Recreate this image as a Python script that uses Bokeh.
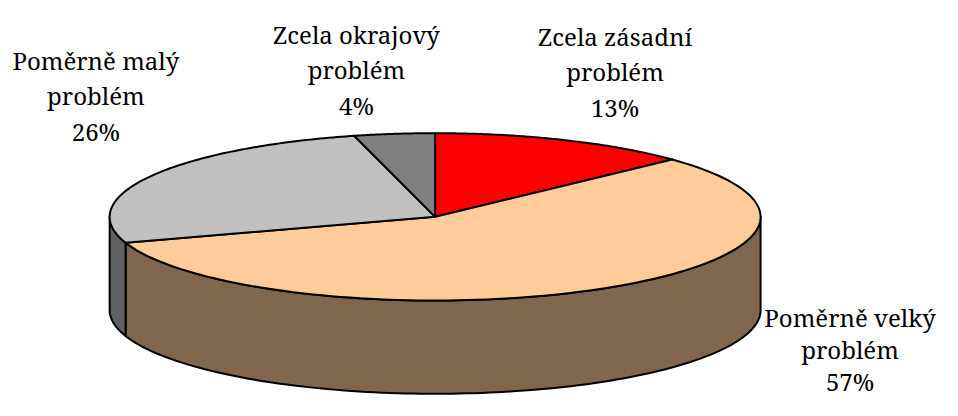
import numpy as np
from bokeh.plotting import figure
from bokeh.models import Range1d
from bokeh.core.properties import value
from bokeh.embed import file_html
from bokeh.resources import INLINE

# ---- data ----
categories = ["Zcela zásadní problém", "Poměrně velký problém",
              "Poměrně malý problém", "Zcela okrajový problém"]
label_line1 = ["Zcela zásadní", "Poměrně velký", "Poměrně malý", "Zcela okrajový"]
label_line2 = ["problém", "problém", "problém", "problém"]
percents = [13, 57, 26, 4]
top_colors = ["#FF0000", "#FFCC99", "#C0C0C0", "#808080"]
side_colors = ["#7F0000", "#7F664C", "#606060", "#404040"]

# ---- layout (reference pixel coordinates) ----
CX, CY, RX, RY, DEPTH = 442.0, 225.0, 331.0, 87.0, 97.0
label_x = [625, 864, 97, 362]
label_y = [37, 330, 62, 35]
label_gap = [37, 33, 37, 37]

p = figure(width=942, height=400, x_range=Range1d(0, 958), y_range=Range1d(416, 0),
           output_backend="svg", toolbar_location=None, min_border=0,
           x_axis_location=None, y_axis_location=None)
p.grid.visible = False
p.outline_line_color = None
p.background_fill_color = "white"
p.border_fill_color = "white"


def arc(a0, a1, dy=0.0, n=120):
    t = np.radians(np.linspace(a0, a1, n))
    return list(CX + RX * np.sin(t)), list(CY - RY * np.cos(t) + dy)


vals = np.array(percents, dtype=float)
cum = np.concatenate([[0.0], np.cumsum(vals)]) / vals.sum() * 360.0

# side faces (front half only: 90..270 deg measured clockwise from top)
sx, sy, sc = [], [], []
for i in range(len(vals)):
    lo, hi = max(cum[i], 90.0), min(cum[i + 1], 270.0)
    if lo < hi:
        tx, ty = arc(lo, hi)
        bx, by = arc(hi, lo, DEPTH)
        sx.append(tx + bx)
        sy.append(ty + by)
        sc.append(side_colors[i])
p.patches(sx, sy, fill_color=sc, line_color="black", line_width=2, line_join="round")

# top faces
txs, tys = [], []
for i in range(len(vals)):
    ax, ay = arc(cum[i], cum[i + 1])
    txs.append([CX] + ax)
    tys.append([CY] + ay)
p.patches(txs, tys, fill_color=top_colors, line_color="black", line_width=2, line_join="round")

# labels
font = value("Noto Serif")
for i in range(len(vals)):
    lines = [label_line1[i], label_line2[i], f"{percents[i]}%"]
    for k, t in enumerate(lines):
        p.text(x=[label_x[i]], y=[label_y[i] + k * label_gap[i]], text=[t],
               text_font=font, text_font_size="24px", text_align="center",
               text_baseline="alphabetic", text_color="black")

open("out.html", "w").write(file_html(p, INLINE))
